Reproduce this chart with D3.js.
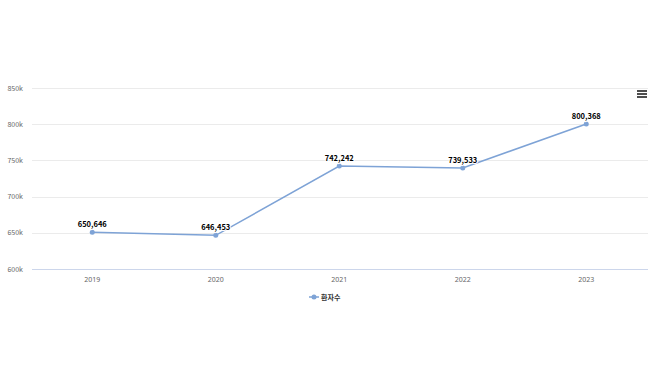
<!DOCTYPE html>
<html><head><meta charset="utf-8">
<script src="https://cdn.jsdelivr.net/npm/d3@7"></script>
<style>body{margin:0;background:#fff}svg{display:block;font-family:"Noto Sans CJK KR","Noto Sans",sans-serif}</style>
</head><body><svg id="c" width="658" height="369"></svg>
<script>
const categories = ["2019","2020","2021","2022","2023"];
const values = [650646, 646453, 742242, 739533, 800368];
const yTicks = [600000, 650000, 700000, 750000, 800000, 850000];
const seriesName = "환자수";

const svg = d3.select("#c");
const x = d3.scaleBand().domain(categories).range([30.5, 648]);
const y = d3.scaleLinear().domain([600000, 850000]).range([269, 88]);
const fmtK = d => (d/1000) + "k";

// grid
svg.append("g").selectAll("line").data(yTicks.slice(1)).join("line")
  .attr("x1", 32).attr("x2", 648).attr("y1", d => Math.round(y(d))+0.5).attr("y2", d => Math.round(y(d))+0.5)
  .attr("stroke", "#ebebeb").attr("stroke-width", 1);
svg.append("g").selectAll("text").data(yTicks).join("text")
  .attr("x", 23).attr("y", d => y(d)+2.5).attr("text-anchor","end")
  .attr("font-size", 7).attr("fill", "#666").text(fmtK);
// x axis
const xa = svg.append("g").attr("transform","translate(0,"+(Math.round(y(600000))+0.5)+")")
  .call(d3.axisBottom(x).tickSize(0).tickPadding(8));
xa.select(".domain").attr("stroke","#ccd6eb").attr("d","M32,0H648");
xa.selectAll("text").attr("font-size",7).attr("fill","#666").attr("font-family","'Noto Sans',sans-serif");

const cx = d => x(d) + x.bandwidth()/2;
const line = d3.line().x((d,i)=>cx(categories[i])).y(d=>y(d));
svg.append("path").datum(values).attr("d", line).attr("fill","none")
  .attr("stroke","#7ea3d6").attr("stroke-width",1.5);
svg.append("g").selectAll("circle").data(values).join("circle")
  .attr("cx",(d,i)=>cx(categories[i])).attr("cy",d=>y(d)).attr("r",2.5).attr("fill","#7ea3d6");
svg.append("g").selectAll("text").data(values).join("text")
  .attr("x",(d,i)=>cx(categories[i])).attr("y",d=>y(d)-5).attr("text-anchor","middle")
  .attr("font-size",7.5).attr("font-weight","bold").attr("fill","#000")
  .attr("stroke","#fff").attr("stroke-width",2).attr("paint-order","stroke")
  .text(d3.format(","));

// legend
const lg = svg.append("g").attr("transform","translate(309,297)");
lg.append("line").attr("x1",0).attr("x2",10).attr("stroke","#7ea3d6").attr("stroke-width",1.5);
lg.append("circle").attr("cx",5).attr("r",2.5).attr("fill","#7ea3d6");
lg.append("text").attr("x",12).attr("y",2.5).attr("font-size",7).attr("font-weight","bold").attr("fill","#333").text(seriesName);

// menu icon
const mi = svg.append("g").attr("transform","translate(637,91)");
[0,3,6].forEach(o=>mi.append("line").attr("x1",0).attr("x2",10).attr("y1",o).attr("y2",o).attr("stroke","#222").attr("stroke-width",1.6));
</script></body></html>
